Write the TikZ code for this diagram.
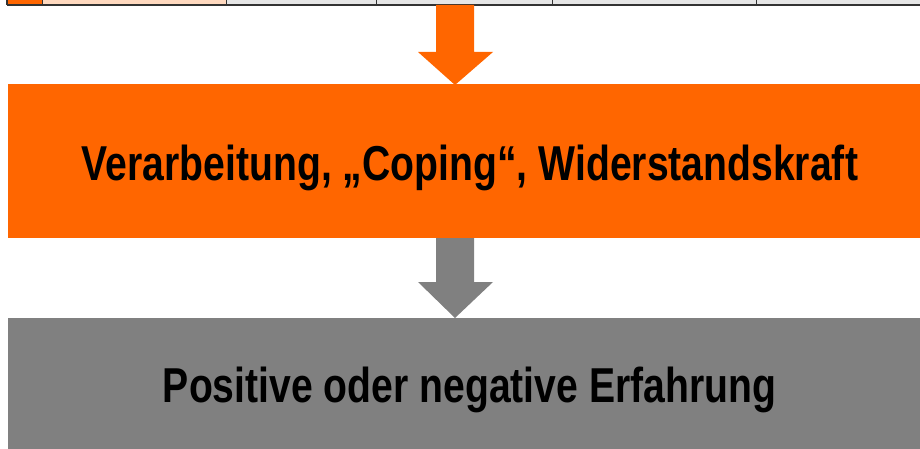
\documentclass[tikz,border=0pt]{standalone}
\usepackage{fontspec}
\setmainfont{Liberation Sans}
\usepackage{graphicx}
\definecolor{orng}{HTML}{FF6600}
\definecolor{peach}{HTML}{FFD9BF}
\definecolor{lgray}{HTML}{E6E6E6}
\definecolor{mgray}{HTML}{808080}
\definecolor{line}{HTML}{333333}
\tikzset{
  boxbar/.style={inner sep=0pt, outer sep=0pt, draw=none},
  lbl/.style={inner sep=0pt, font=\fontsize{49}{49}\selectfont\bfseries, text=black},
  cell/.style={draw=line, line width=1.2pt},
}
\begin{document}
\begin{tikzpicture}[x=1pt,y=-1pt]
\useasboundingbox (0,0) rectangle (920,449);
% table row (cut off at top)
\fill[orng] (7,-5) rectangle (42,5);
\fill[peach] (42,-5) rectangle (226,5);
\fill[lgray] (226,-5) rectangle (920,5);
\foreach \x in {42,226,376,552,756} \draw[line, line width=1pt] (\x,-5) -- (\x,5);
\draw[line, line width=1.4pt] (7,5) -- (920,5);
\draw[line, line width=1.2pt] (7,-5) -- (7,5);
\coordinate (tab) at (455,5);
% boxes
\fill[orng] (8,84) rectangle (920,238);
\node[boxbar, minimum width=912pt, minimum height=154pt] (b1) at (464,161) {};
\fill[mgray] (8,318) rectangle (920,449);
\node[boxbar, minimum width=912pt, minimum height=131pt] (b2) at (464,383.5) {};
% labels
\node[lbl, anchor=base] (t1) at (470,180) {\resizebox{776pt}{\height}{Verarbeitung, „Coping“, Widerstandskraft}};
\node[lbl, anchor=base] (t2) at (469.5,402) {\resizebox{613pt}{\height}{Positive oder negative Erfahrung}};
% block arrows
\fill[orng] (tab -| 436,0) -- (436,52) -- (418,52) -- (455,85) -- (493,52) -- (474,52) -- (tab -| 474,0) -- cycle;
\fill[mgray] (b1.south -| 436,0) -- (436,282) -- (418,282) -- (b2.north -| 455,0) -- (493,282) -- (474,282) -- (b1.south -| 474,0) -- cycle;
\end{tikzpicture}
\end{document}
